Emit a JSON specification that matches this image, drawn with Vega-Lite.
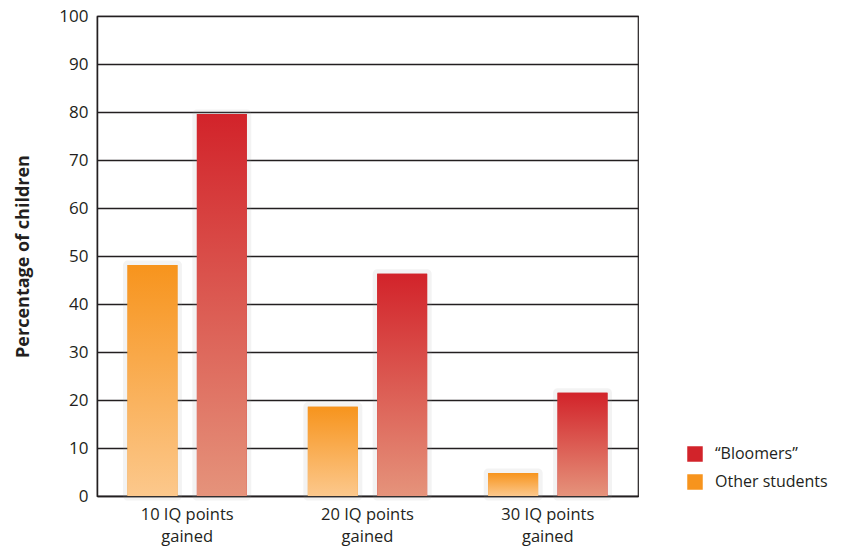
{
  "$schema": "https://vega.github.io/schema/vega-lite/v6.json",
  "width": 541,
  "height": 480,
  "autosize": "none",
  "padding": {"left": 97, "top": 16, "right": 206, "bottom": 57},
  "background": "white",
  "config": {
    "font": "Open Sans",
    "view": {"stroke": "#231f20", "strokeWidth": 1.2},
    "axis": {
      "labelFont": "Open Sans",
      "labelFontSize": 16,
      "labelColor": "#231f20",
      "titleFont": "Open Sans",
      "titleColor": "#231f20",
      "domainColor": "#231f20",
      "domainWidth": 1.5,
      "ticks": false
    },
    "legend": {"labelFont": "Open Sans", "labelFontSize": 16, "labelColor": "#231f20"}
  },
  "data": {
    "values": [
      {"group": "10 IQ points gained", "series": "Other students", "value": 48.1},
      {"group": "10 IQ points gained", "series": "“Bloomers”", "value": 79.6},
      {"group": "20 IQ points gained", "series": "Other students", "value": 18.6},
      {"group": "20 IQ points gained", "series": "“Bloomers”", "value": 46.3},
      {"group": "30 IQ points gained", "series": "Other students", "value": 4.8},
      {"group": "30 IQ points gained", "series": "“Bloomers”", "value": 21.5}
    ]
  },
  "encoding": {
    "x": {
      "field": "group",
      "type": "nominal",
      "scale": {"paddingInner": 0, "paddingOuter": 0},
      "axis": {
        "title": null,
        "labelAngle": 0,
        "labelPadding": 10,
        "labelLineHeight": 22,
        "labelFontSize": 16.5,
        "labelExpr": "[replace(datum.label, ' gained', ''), 'gained']"
      }
    },
    "xOffset": {
      "field": "series",
      "type": "nominal",
      "scale": {"domain": ["Other students", "“Bloomers”"], "paddingInner": 0.28, "paddingOuter": 0.44}
    },
    "y": {
      "field": "value",
      "type": "quantitative",
      "scale": {"domain": [0, 100], "nice": false},
      "axis": {
        "title": "Percentage of children",
        "titleFontSize": 18,
        "titleFontWeight": "bold",
        "titlePadding": 26,
        "values": [0, 10, 20, 30, 40, 50, 60, 70, 80, 90, 100],
        "labelOverlap": false,
        "labelFontSize": 17,
        "labelPadding": 9,
        "grid": true,
        "gridColor": "#231f20",
        "gridWidth": 1.5
      }
    }
  },
  "layer": [
    {
      "mark": {"type": "bar", "fill": "#999", "fillOpacity": 0.2, "stroke": "#999", "strokeOpacity": 0.12, "strokeWidth": 9, "strokeJoin": "round", "xOffset": 2},
      "encoding": {}
    },
    {
      "mark": {"type": "bar"},
      "encoding": {
        "color": {
          "field": "series",
          "type": "nominal",
          "scale": {"domain": ["“Bloomers”", "Other students"], "range": ["#d2232a", "#f7941d"]},
          "legend": {
            "title": null,
            "orient": "none",
            "legendX": 590,
            "legendY": 430,
            "symbolType": "square",
            "symbolSize": 240,
            "symbolStrokeWidth": 0,
            "rowPadding": 12,
            "labelOffset": 12
          }
        }
      }
    },
    {
      "transform": [{"filter": "datum.series === 'Other students'"}],
      "mark": {
        "type": "bar",
        "color": {
          "gradient": "linear", "x1": 0, "y1": 0, "x2": 0, "y2": 1,
          "stops": [{"offset": 0, "color": "#f7941d"}, {"offset": 1, "color": "#fcc88c"}]
        }
      },
      "encoding": {}
    },
    {
      "transform": [{"filter": "datum.series !== 'Other students'"}],
      "mark": {
        "type": "bar",
        "color": {
          "gradient": "linear", "x1": 0, "y1": 0, "x2": 0, "y2": 1,
          "stops": [{"offset": 0, "color": "#d2232a"}, {"offset": 1, "color": "#e5937b"}]
        }
      },
      "encoding": {}
    }
  ]
}
